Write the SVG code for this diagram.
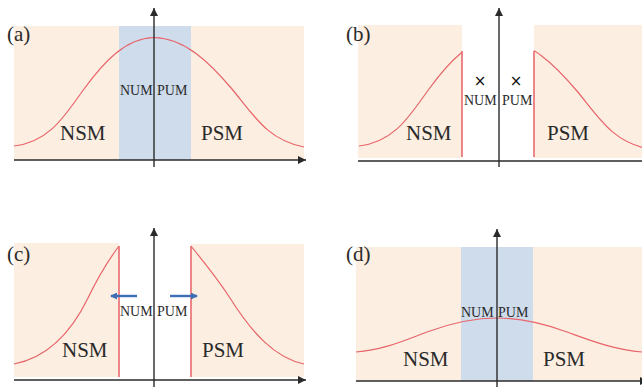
<svg xmlns="http://www.w3.org/2000/svg" width="642" height="387" viewBox="0 0 642 387">
<style>
.bg{fill:#FCEEE1;}
.band{fill:#CFDCEC;}
.curve{fill:none;stroke:#E8646A;stroke-width:1.2;}
.cut{fill:none;stroke:#E86A6E;stroke-width:1.6;}
.axis{fill:none;stroke:#2a2a2a;stroke-width:1.4;}
.ax{marker-end:url(#ah);}
.lbl{font-family:"Liberation Serif","Times New Roman",serif;fill:#2a2a2a;}
.big{font-size:21px;}
.sm{font-size:14px;}
.x{font-family:"DejaVu Sans","Liberation Sans",sans-serif;font-size:15px;fill:#111;text-anchor:middle;}
.barr{fill:none;stroke:#3E6FB5;stroke-width:2.4;marker-end:url(#bh);}
</style>
<defs>
<marker id="ah" markerUnits="userSpaceOnUse" markerWidth="10" markerHeight="8" refX="8" refY="4" orient="auto">
<path d="M0,0 L8,4 L0,8 Z" fill="#2a2a2a"/>
</marker>
<marker id="bh" markerUnits="userSpaceOnUse" markerWidth="8" markerHeight="7" refX="6" refY="3.5" orient="auto">
<path d="M0,0 L7,3.5 L0,7 Z" fill="#3E6FB5"/>
</marker>
<clipPath id="cbL"><rect x="358" y="20" width="104" height="145"/></clipPath>
<clipPath id="cbR"><rect x="534" y="20" width="110" height="145"/></clipPath>
</defs>

<g id="panel-a">
<rect class="bg" x="14" y="26" width="290" height="134"/>
<rect class="band" x="119" y="26" width="72" height="134"/>
<path class="curve" d="M14,146 C50,142 65,115 84,89 C103,63 125,38 154,37.5 C185,38 210,63 232,89 C255,117 268,140 304,147"/>
<text class="lbl big" x="7" y="41">(a)</text>
<text class="lbl sm" x="120" y="95">NUM</text>
<text class="lbl sm" x="157" y="95">PUM</text>
<text class="lbl big" x="60" y="140">NSM</text>
<text class="lbl big" x="201" y="140">PSM</text>
</g>

<g id="panel-b">
<rect class="bg" x="358" y="25" width="104" height="133"/>
<rect class="bg" x="534" y="25" width="108" height="133"/>
<g clip-path="url(#cbL)"><path class="curve" transform="translate(345,0)" d="M14,146 C50,142 65,115 84,89 C103,63 125,38 154,37.5"/></g>
<g clip-path="url(#cbR)"><path class="curve" transform="translate(345,2)" d="M154,37.5 C185,38 210,63 232,89 C255,117 268,140 304,147"/></g>
<line class="cut" x1="462" y1="51" x2="462" y2="157"/>
<line class="cut" x1="534" y1="51" x2="534" y2="157"/>
<text class="lbl big" x="346" y="41">(b)</text>
<text class="x" x="480" y="86">×</text>
<text class="x" x="516" y="86">×</text>
<text class="lbl sm" x="464" y="105">NUM</text>
<text class="lbl sm" x="502" y="105">PUM</text>
<text class="lbl big" x="406" y="140">NSM</text>
<text class="lbl big" x="547" y="140">PSM</text>
</g>

<g id="panel-c">
<rect class="bg" x="14" y="243" width="105" height="134"/>
<rect class="bg" x="191" y="244" width="113" height="133"/>
<path class="curve" d="M14,364 C45,358 70,335 88,298 C100,273 110,258 119,246"/>
<path class="curve" d="M191,246 C202,260 215,275 230,298 C252,333 275,358 304,364"/>
<line class="cut" x1="119" y1="246" x2="119" y2="377"/>
<line class="cut" x1="191" y1="246" x2="191" y2="377"/>
<text class="lbl big" x="7" y="261">(c)</text>
<text class="lbl sm" x="120" y="316">NUM</text>
<text class="lbl sm" x="157" y="316">PUM</text>
<text class="lbl big" x="62" y="357">NSM</text>
<text class="lbl big" x="202" y="357">PSM</text>
</g>

<g id="panel-d">
<rect class="bg" x="356" y="247" width="286" height="134"/>
<rect class="band" x="461" y="247" width="72" height="134"/>
<path class="curve" d="M356,352 C385,350 410,338 430,331 C455,322 475,318 497,318 C519,318 539,322 564,331 C584,338 613,350 642,352"/>
<text class="lbl big" x="346" y="261">(d)</text>
<text class="lbl sm" x="461" y="317">NUM</text>
<text class="lbl sm" x="498" y="317">PUM</text>
<text class="lbl big" x="403" y="366">NSM</text>
<text class="lbl big" x="543" y="366">PSM</text>
</g>

<g id="connectors">
<line class="axis ax" x1="154" y1="167" x2="154" y2="8"/>
<line class="axis ax" x1="14" y1="160" x2="306" y2="160"/>
<line class="axis ax" x1="499" y1="167" x2="499" y2="8"/>
<line class="axis ax" x1="358" y1="161" x2="650" y2="161"/>
<line class="axis ax" x1="154" y1="387" x2="154" y2="228"/>
<line class="axis ax" x1="14" y1="380" x2="306" y2="380"/>
<line class="axis ax" x1="497" y1="387" x2="497" y2="229"/>
<line class="axis ax" x1="356" y1="381" x2="648" y2="381"/>
<line class="barr" x1="137" y1="296" x2="111" y2="296"/>
<line class="barr" x1="170" y1="296" x2="197" y2="296"/>
</g>
</svg>
